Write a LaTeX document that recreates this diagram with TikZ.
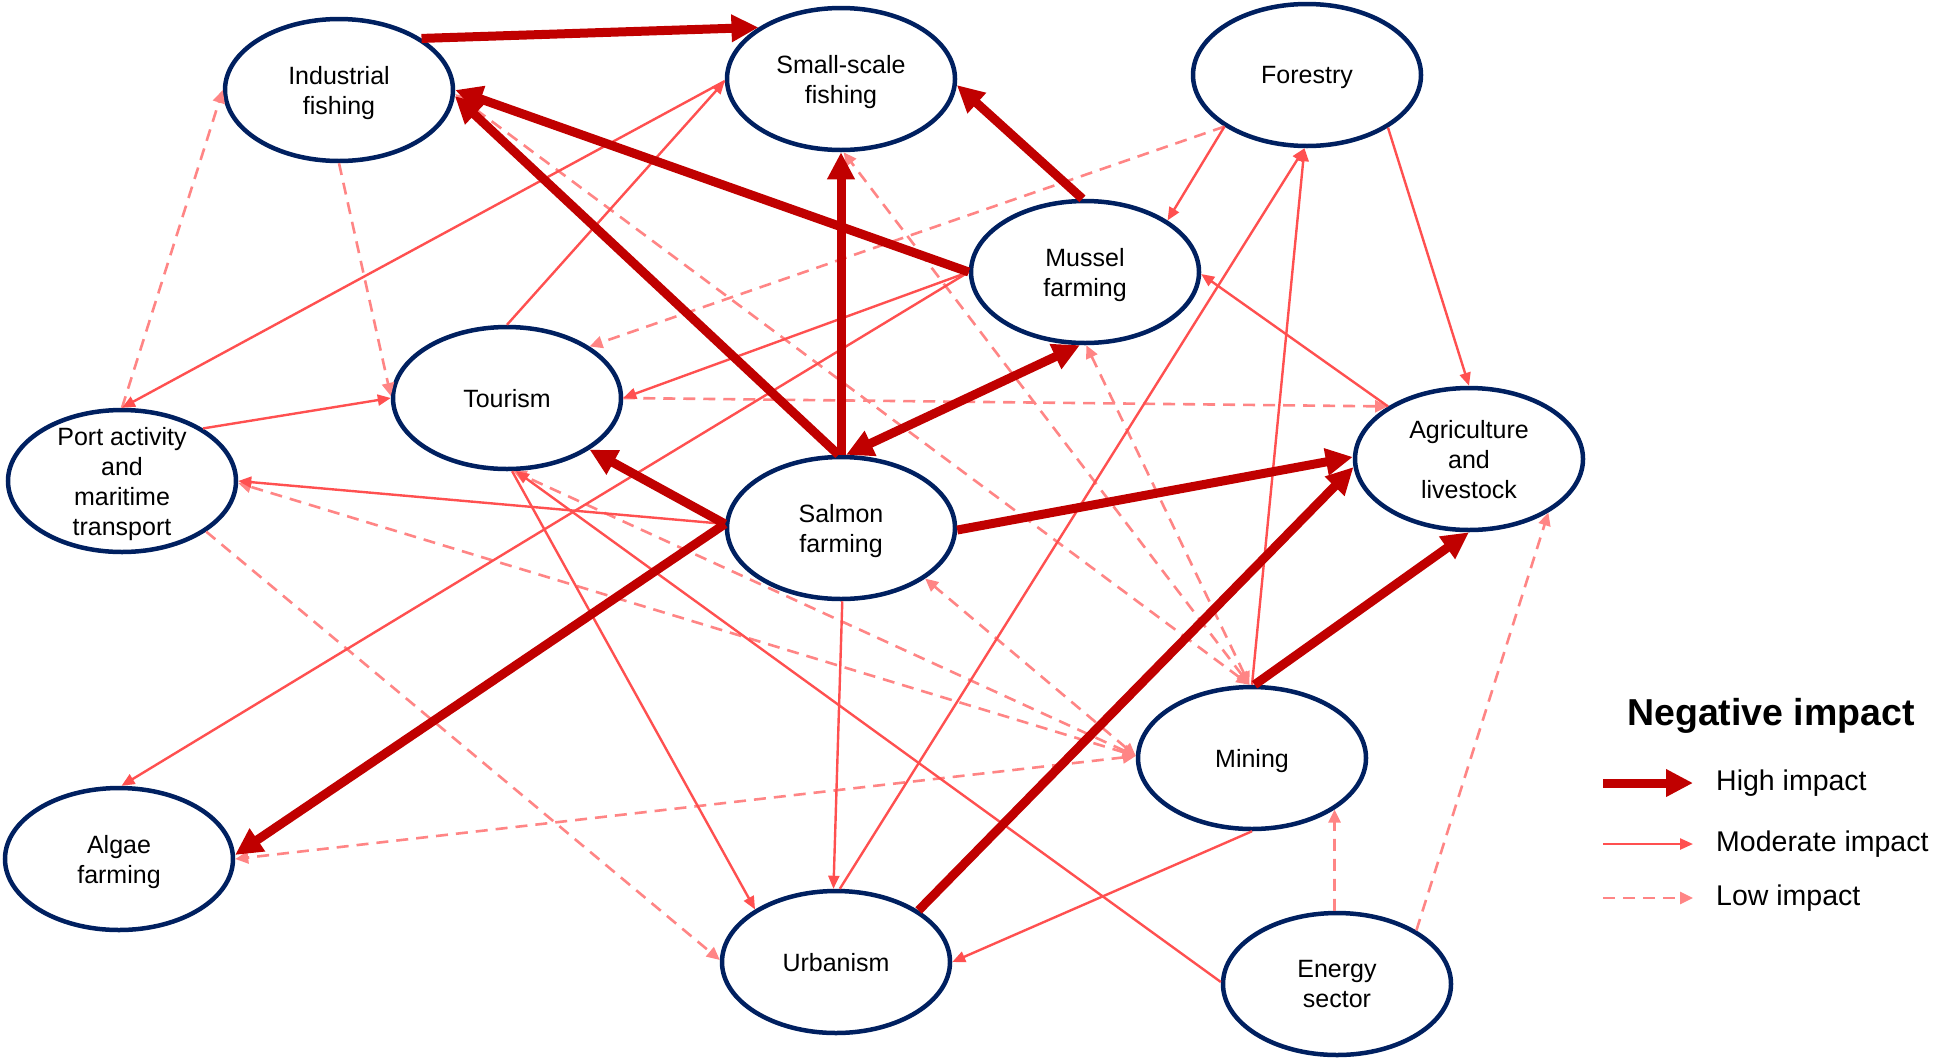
\documentclass[tikz,border=0pt]{standalone}
\usepackage{fontspec}
\setmainfont{Liberation Sans}
\usetikzlibrary{arrows.meta,shapes.geometric}
\definecolor{navyc}{HTML}{002060}
\definecolor{hired}{HTML}{C00000}
\definecolor{modred}{HTML}{FF5050}
\definecolor{lowred}{HTML}{FF8585}
\begin{document}
\begin{tikzpicture}[x=1pt,y=-1pt,
  sector/.style={ellipse,draw=navyc,line width=4.5pt,fill=white,minimum width=228pt,minimum height=142pt,inner sep=0pt},
  lab/.style={font=\fontsize{25}{30}\selectfont,align=center,text=black,inner sep=0pt,text depth=0pt},
  highline/.style={draw=hired,line width=9pt,-{Triangle[length=27pt,width=26pt]}},
  highboth/.style={draw=hired,line width=9pt,{Triangle[length=27pt,width=26pt]}-{Triangle[length=27pt,width=26pt]}},
  modline/.style={draw=modred,line width=2.4pt,-{Triangle[length=13pt,width=11pt]}},
  lowline/.style={draw=lowred,line width=2.6pt,dash pattern=on 12pt off 8pt,-{Triangle[length=13pt,width=12pt]}},
  lowboth/.style={lowline,{Triangle[length=13pt,width=12pt]}-{Triangle[length=13pt,width=12pt]}},
  legtext/.style={font=\fontsize{28.5}{34}\selectfont,anchor=west,inner sep=0pt},
]
\useasboundingbox (0,0) rectangle (1950,1058);

% sectors
\node[sector,label={[lab]center:{Industrial\\fishing}}] (indf) at (339,90) {};
\node[sector,label={[lab]center:{Small-scale\\fishing}}] (ssf) at (841,79) {};
\node[sector,label={[lab]center:{Forestry}}] (forest) at (1307,75) {};
\node[sector,label={[lab]center:{Mussel\\farming}}] (mussel) at (1085,272) {};
\node[sector,label={[lab]center:{Tourism}}] (tour) at (507,398) {};
\node[sector,label={[lab]center:{Port activity\\and\\maritime\\transport}}] (port) at (122,481) {};
\node[sector,label={[lab]center:{Agriculture\\and\\livestock}}] (agri) at (1469,459) {};
\node[sector,label={[lab]center:{Salmon\\farming}}] (salmon) at (841,528) {};
\node[sector,label={[lab]center:{Mining}}] (mining) at (1252,758) {};
\node[sector,label={[lab]center:{Algae\\farming}}] (algae) at (119,859) {};
\node[sector,label={[lab]center:{Urbanism}}] (urban) at (836,962) {};
\node[sector,label={[lab]center:{Energy\\sector}}] (energy) at (1337,984) {};

% low impact
\draw[lowline] (port.90) -- (indf.180);
\draw[lowline] (indf.270) -- (tour.179);
\draw[lowline] (forest.212) -- (tour.32);
\draw[lowline] (tour.0) -- (agri.147);
\draw[lowboth] (mining.92) -- (indf.358);
\draw[lowboth] (mining.92) -- (ssf.272);
\draw[lowboth] (mining.92) -- (mussel.271);
\draw[lowboth] (mining.179) -- (salmon.329);
\draw[lowboth] (mining.179) -- (tour.275);
\draw[lowboth] (mining.179) -- (port.359);
\draw[lowboth] (mining.179) -- (algae.0);
\draw[lowline] (port.329) -- (urban.179);
\draw[lowline] (energy.92) -- (mining.328);
\draw[lowline] (energy.34) -- (agri.326);

% moderate impact
\draw[modline] (ssf.181) -- (port.90);
\draw[modline] (tour.90) -- (ssf.181);
\draw[modline] (port.33) -- (tour.180);
\draw[modline] (salmon.178) -- (port.0);
\draw[modline] (mussel.180) -- (tour.0);
\draw[modline] (mussel.180) -- (algae.88);
\draw[modline] (forest.212) -- (mussel.32);
\draw[modline] (forest.327) -- (agri.90);
\draw[modline] (agri.147) -- (mussel.359);
\draw[modline] (urban.87) -- (forest.268);
\draw[modline] (mining.90) -- (forest.268);
\draw[modline] (salmon.271) -- (urban.92);
\draw[modline] (tour.274) -- (urban.147);
\draw[modline] (energy.179) -- (tour.277);
\draw[modline] (mining.270) -- (urban.0);

% high impact
\draw[highline] (indf.32) -- (ssf.148);
\draw[highline] (mussel.92) -- (ssf.357);
\draw[highline] (mussel.180) -- (indf.0);
\draw[highline] (salmon.92) -- (indf.357);
\draw[highline] (salmon.90) -- (ssf.270);
\draw[highboth] (salmon.86) -- (mussel.266);
\draw[highline] (salmon.178) -- (tour.328);
\draw[highline] (salmon.359) -- (agri.179);
\draw[highline] (salmon.178) -- (algae.2);
\draw[highline] (urban.32) -- (agri.184);
\draw[highline] (mining.88) -- (agri.270);

% legend
\node[font=\fontsize{37.5}{44}\selectfont\bfseries,anchor=west,inner sep=0pt] (legtitle) at (1627,716) {Negative impact};
\coordinate (ha) at (1603,783); \coordinate (hb) at (1693,783);
\coordinate (ma) at (1603,844); \coordinate (mb) at (1693,844);
\coordinate (la) at (1603,898); \coordinate (lb) at (1693,898);
\draw[highline] (ha) -- (hb);
\draw[modline] (ma) -- (mb);
\draw[lowline] (la) -- (lb);
\node[legtext] (hightext) at (1716,783) {High impact};
\node[legtext] (modtext) at (1716,844) {Moderate impact};
\node[legtext] (lowtext) at (1716,898) {Low impact};
\end{tikzpicture}
\end{document}
